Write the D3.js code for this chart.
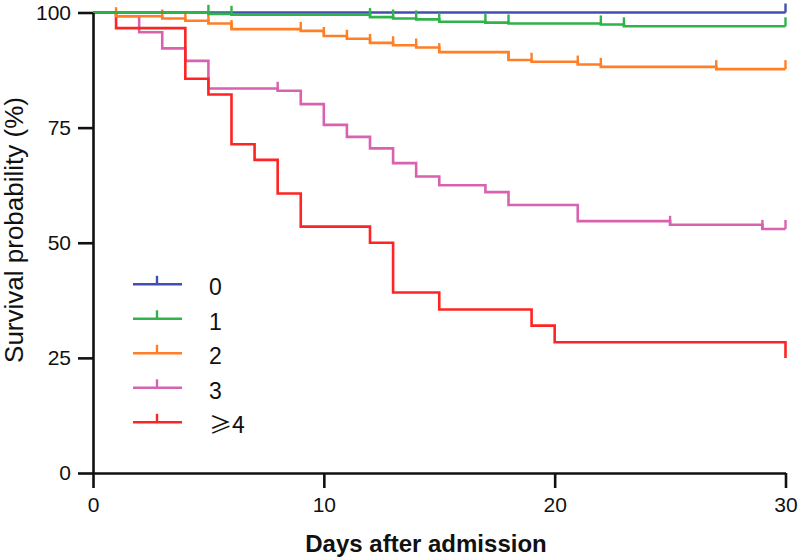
<!DOCTYPE html>
<html>
<head>
<meta charset="utf-8">
<script src="https://cdn.jsdelivr.net/npm/d3@7"></script>
<style>
  html, body { margin: 0; padding: 0; background: #fff; }
  svg { display: block; font-family: "Liberation Sans", Arial, sans-serif; }
</style>
</head>
<body>
<svg id="chart" width="800" height="559"></svg>
<script>
// ---- Data ----
const groupLabels = ["0", "1", "2", "3", "≥4"];
const groupColors = ["#3f4fb2", "#2fb34a", "#ff7f27", "#d862b0", "#ff2424"];

// event times (days) and survival (%) right after each step
const times0 = [];
const surv0 = [];
const censor0 = [30];

const times1 = [5, 6, 12, 13, 14, 15, 17, 18, 22, 23];
const surv1 = [99.7, 99.5, 99.0, 98.7, 98.5, 98.0, 97.8, 97.6, 97.4, 97.0];
const censor1 = [5, 6, 12, 13, 14, 15, 17, 18, 22, 23, 30];

const times2 = [1, 3, 4, 5, 6, 9, 10, 11, 12, 13, 14, 15, 18, 19, 21, 22, 27];
const surv2 = [99.2, 98.7, 98.2, 97.6, 96.4, 96.0, 94.9, 94.3, 93.4, 92.9, 92.4, 91.4, 89.7, 89.3, 88.7, 88.2, 87.7];
const censor2 = [1, 3, 4, 5, 6, 9, 10, 11, 12, 13, 14, 15, 18, 19, 21, 22, 27, 30];

const times3 = [1, 2, 3, 4, 5, 8, 9, 10, 11, 12, 13, 14, 15, 17, 18, 21, 25, 29];
const surv3 = [99.2, 95.7, 92.2, 89.5, 83.5, 83.0, 80.1, 75.6, 73.0, 70.5, 67.3, 64.4, 62.5, 61.0, 58.2, 54.7, 53.9, 53.0];
const censor3 = [8, 25, 29, 30];

const times4 = [1, 4, 5, 6, 7, 8, 9, 12, 13, 15, 19, 20, 30];
const surv4 = [96.6, 85.6, 82.2, 71.4, 68.0, 60.7, 53.5, 50.0, 39.2, 35.5, 32.0, 28.4, 25.0];
const censor4 = [];

const xTicks = [0, 10, 20, 30];
const yTicks = [0, 25, 50, 75, 100];
const xTitle = "Days after admission";
const yTitle = "Survival probability (%)";
const maxDay = 30;

// ---- Build ----
const groups = [
  { t: times0, s: surv0, c: censor0 },
  { t: times1, s: surv1, c: censor1 },
  { t: times2, s: surv2, c: censor2 },
  { t: times3, s: surv3, c: censor3 },
  { t: times4, s: surv4, c: censor4 }
].map((g, i) => {
  const pts = [[0, 100]];
  g.t.forEach((t, j) => pts.push([t, g.s[j]]));
  pts.push([maxDay, pts[pts.length - 1][1]]);
  const survAt = day => {
    let v = 100;
    g.t.forEach((t, j) => { if (t <= day) v = g.s[j]; });
    return v;
  };
  return { label: groupLabels[i], color: groupColors[i], pts, censor: g.c.map(d => [d, survAt(d)]) };
});

const svg = d3.select("#chart");
const x = d3.scaleLinear().domain([0, 30]).range([93, 785.5]);
const y = d3.scaleLinear().domain([0, 100]).range([473, 12.5]);

const line = d3.line().x(d => x(d[0])).y(d => y(d[1])).curve(d3.curveStepAfter);

// draw order: bottom to top
const order = [3, 4, 2, 0, 1];
order.forEach(i => {
  const g = groups[i];
  const gg = svg.append("g");
  gg.append("path")
    .attr("d", line(g.pts))
    .attr("fill", "none")
    .attr("stroke", g.color)
    .attr("stroke-width", 2.6)
    .attr("stroke-linejoin", "miter");
  gg.selectAll("line.cens").data(g.censor).join("line")
    .attr("x1", d => x(d[0])).attr("x2", d => x(d[0]))
    .attr("y1", d => y(d[1])).attr("y2", d => y(d[1]) - 9)
    .attr("stroke", g.color).attr("stroke-width", 2.4);
});

// axes
const yAxis = d3.axisLeft(y).tickValues(yTicks).tickSize(15).tickSizeOuter(0).tickPadding(7);
const xAxis = d3.axisBottom(x).tickValues(xTicks).tickSize(15).tickSizeOuter(0).tickPadding(9);

const ya = svg.append("g").attr("transform", `translate(${x(0)},0)`).call(yAxis);
const xa = svg.append("g").attr("transform", `translate(0,${y(0)})`).call(xAxis);
[ya, xa].forEach(a => {
  a.selectAll("path, line").attr("stroke", "#111").attr("stroke-width", 2.6);
  a.selectAll("text").attr("font-size", 21).attr("fill", "#111")
    .attr("font-family", "'Liberation Sans', Arial, sans-serif");
});

// titles
svg.append("text")
  .attr("x", 426).attr("y", 552)
  .attr("text-anchor", "middle")
  .attr("font-size", 24).attr("font-weight", "bold").attr("fill", "#111")
  .text(xTitle);

svg.append("text")
  .attr("transform", `translate(23,230) rotate(-90)`)
  .attr("text-anchor", "middle")
  .attr("font-size", 26).attr("fill", "#111")
  .text(yTitle);

// legend
const ly = d3.scaleLinear().domain([0, 4]).range([284.3, 422.3]);
groups.forEach((g, i) => {
  const yy = ly(i);
  svg.append("line").attr("x1", 133).attr("x2", 182).attr("y1", yy).attr("y2", yy)
    .attr("stroke", g.color).attr("stroke-width", 2.6);
  svg.append("line").attr("x1", 157).attr("x2", 157).attr("y1", yy).attr("y2", yy - 8.5)
    .attr("stroke", g.color).attr("stroke-width", 2.4);
  svg.append("text").attr("x", 209).attr("y", yy + 11)
    .attr("font-size", 23).attr("fill", "#111")
    .attr("font-family", i === 4 ? "'Noto Sans CJK SC', 'Liberation Sans', sans-serif" : "'Liberation Sans', Arial, sans-serif")
    .text(g.label);
});
</script>
</body>
</html>
